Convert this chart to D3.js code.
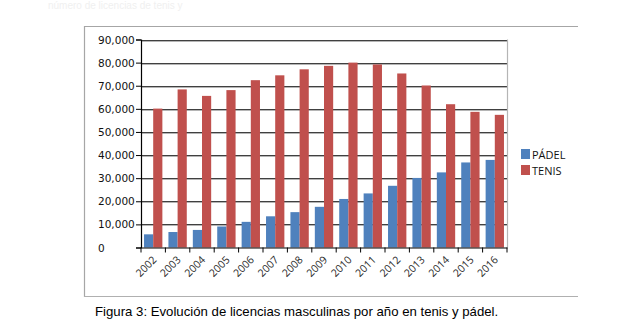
<!DOCTYPE html>
<html><head><meta charset="utf-8">
<script src="https://cdn.jsdelivr.net/npm/d3@7"></script>
<style>
html,body{margin:0;padding:0;background:#fff;}
svg{display:block;}
</style></head>
<body>
<svg id="c" width="635" height="334"></svg>
<script>
const years = ["2002","2003","2004","2005","2006","2007","2008","2009","2010","2011","2012","2013","2014","2015","2016"];
const padel = [5700,6700,7600,9100,11100,13500,15300,17600,21000,23400,26700,30100,32500,36800,37900];
const tenis = [60100,68400,65600,68100,72400,74500,77100,78600,80000,79200,75300,70100,62000,58700,57400];
const seriesNames = ["PÁDEL","TENIS"];
const seriesColors = ["#4f81bd","#c0504d"];
const yTicks = [0,10000,20000,30000,40000,50000,60000,70000,80000,90000];
const caption = "Figura 3: Evolución de licencias masculinas por año en tenis y pádel.";
const topText = "número de licencias de tenis y";

const svg = d3.select("#c");
const L = 141, R = 507, T = 39.5, B = 247.5;
const x = d3.scaleBand().domain(years).range([L, R]).paddingInner(0).paddingOuter(0);
const x1 = d3.scaleBand().domain(seriesNames).range([0, x.bandwidth()]).paddingInner(0).paddingOuter(0.33);
const y = d3.scaleLinear().domain([0, 90000]).range([B, T]);

// faint text at top
svg.append("text").attr("x", 48).attr("y", 9).attr("fill", "#f0f0f0")
  .style("font-family", "Liberation Sans, Arial, sans-serif").style("font-size", "10px").text(topText);

// frame
const fr = svg.append("g").attr("stroke", "#a6a6a6").attr("stroke-width", 1.2).attr("fill", "none");
fr.append("line").attr("x1", 84).attr("x2", 578).attr("y1", 26.5).attr("y2", 26.5);
fr.append("line").attr("x1", 84.5).attr("x2", 84.5).attr("y1", 26).attr("y2", 297);
fr.append("line").attr("x1", 84).attr("x2", 578).attr("y1", 296.5).attr("y2", 296.5).attr("stroke", "#b0b0b0");

// gridlines
const grid = svg.append("g");
grid.selectAll("line.g2").data(yTicks.slice(1)).join("line")
  .attr("x1", L).attr("x2", R).attr("y1", d => Math.round(y(d)) + 1.5).attr("y2", d => Math.round(y(d)) + 1.5)
  .attr("stroke", "#b5b5b5").attr("stroke-width", 1);
grid.selectAll("line.g").data(yTicks.slice(1)).join("line")
  .attr("x1", L).attr("x2", R).attr("y1", d => Math.round(y(d)) + 0.5).attr("y2", d => Math.round(y(d)) + 0.5)
  .attr("stroke", "#404040").attr("stroke-width", 1);
// right plot border
svg.append("line").attr("x1", R + 0.5).attr("x2", R + 0.5).attr("y1", T).attr("y2", B)
  .attr("stroke", "#b5b5b5").attr("stroke-width", 1.2);

// bars
const g = svg.append("g");
years.forEach((yr, i) => {
  [padel[i], tenis[i]].forEach((v, j) => {
    g.append("rect")
      .attr("x", x(yr) + x1(seriesNames[j]))
      .attr("y", y(v))
      .attr("width", x1.bandwidth())
      .attr("height", B - y(v))
      .attr("fill", seriesColors[j]);
  });
});

// y axis
const yAxis = svg.append("g").attr("transform", `translate(${L},0)`)
  .call(d3.axisLeft(y).tickValues(yTicks).tickSize(5).tickFormat(() => ""));
yAxis.select(".domain").attr("stroke", "#000").attr("stroke-width", 1.2);
yAxis.selectAll(".tick line").attr("stroke", "#000");
svg.append("g").selectAll("text").data(yTicks).join("text")
  .attr("x", 98).attr("y", d => y(d) + 4)
  .attr("fill", "#111")
  .style("font-family", "DejaVu Sans, Verdana, sans-serif").style("font-size", "10.5px")
  .text(d => d3.format(",")(d));

// x axis
const xAxis = svg.append("g").attr("transform", `translate(0,${B})`)
  .call(d3.axisBottom(x).tickSize(0).tickFormat(() => ""));
xAxis.select(".domain").attr("stroke", "#000").attr("stroke-width", 1.2);
svg.append("g").selectAll("line").data(d3.range(years.length + 1)).join("line")
  .attr("x1", i => L + i * x.bandwidth()).attr("x2", i => L + i * x.bandwidth())
  .attr("y1", B).attr("y2", B + 5).attr("stroke", "#000").attr("stroke-width", 1);
svg.append("g").selectAll("text").data(years).join("text")
  .attr("transform", d => `translate(${x(d) + x.bandwidth() / 2 + 4},${B + 13}) rotate(-45)`)
  .attr("text-anchor", "end")
  .attr("fill", "#2a2a2a")
  .style("font-family", "Open Sans, DejaVu Sans, sans-serif").style("font-size", "10.5px")
  .text(d => d);

// legend
const lg = svg.append("g");
seriesNames.forEach((n, i) => {
  lg.append("rect").attr("x", 521).attr("y", 149 + i * 16).attr("width", 9).attr("height", 10).attr("fill", seriesColors[i]);
  lg.append("text").attr("x", 532).attr("y", 158.5 + i * 16).attr("fill", "#111")
    .style("font-family", "Open Sans, DejaVu Sans, sans-serif").style("font-size", "11px").text(n);
});

// caption
svg.append("text").attr("x", 95).attr("y", 316).attr("fill", "#000")
  .style("font-family", "Liberation Sans, Arial, sans-serif").style("font-size", "13.2px").text(caption);
</script>
</body></html>
